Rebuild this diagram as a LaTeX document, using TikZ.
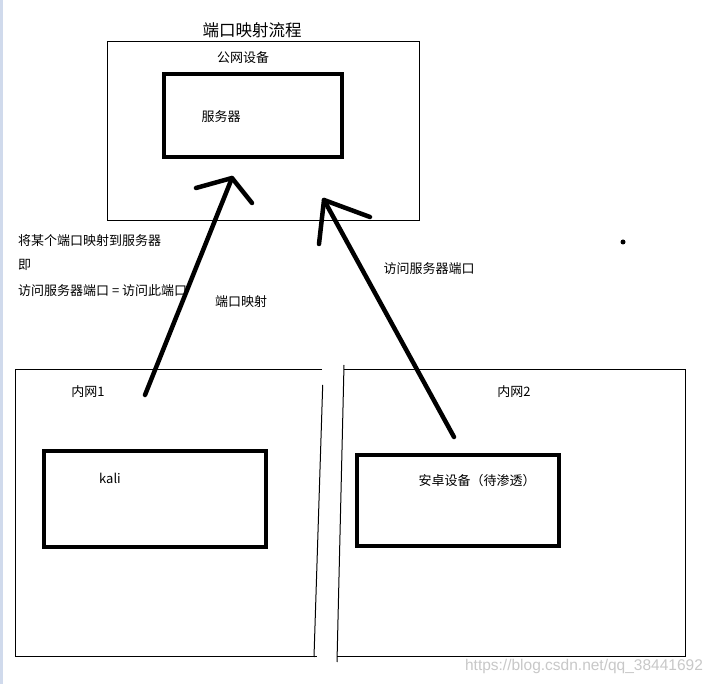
\documentclass[tikz,border=0pt]{standalone}
\usepackage{fontspec}
\setmainfont{Noto Sans CJK SC}
\newfontfamily\wmfont{Liberation Sans}
\usetikzlibrary{positioning}
\definecolor{edgeblue}{RGB}{208,218,236}
\definecolor{markgray}{RGB}{200,200,200}

\begin{document}
\begin{tikzpicture}[
  x=1pt, y=-1pt,
  txt/.style={font=\fontsize{13}{15}\selectfont, inner sep=0pt},
  netbox/.style={draw, line width=1pt, inner sep=0pt},
  devbox/.style={draw, line width=4pt, inner sep=0pt},
  pen/.style={line width=4.5pt, line cap=round, line join=round},
  thinline/.style={line width=1pt}
]
\useasboundingbox (0,0) rectangle (716,684);
\fill[white] (0,0) rectangle (716,684);
\fill[edgeblue] (0,0) rectangle (3,684);

% public side
\node[txt, font=\fontsize{16.5}{18}\selectfont] (title) at (252,30) {端口映射流程};
\node[netbox, minimum width=312pt, minimum height=179pt] (pubnet) at (263,131.5) {};
\node[txt] (pubname) at (243,58) {公网设备};
\node[devbox, minimum width=178pt, minimum height=83pt] (server) at (253,115.5) {};
\node[txt] (servername) at (221,117) {服务器};

% notes
\node[txt, anchor=west] (note1) at (18,241) {将某个端口映射到服务器};
\node[txt, anchor=west] (note2) at (18,265) {即};
\node[txt, anchor=west] (note3) at (18,291) {访问服务器端口 = 访问此端口};
\node[txt] (maplabel) at (241,302) {端口映射};
\node[txt] (visitlabel) at (429,269) {访问服务器端口};
\fill (623,242) circle (2.5);

% inner networks
\draw[thinline] (322,370) -- (15,370) -- (15,657) -- (317,657);
\draw[thinline] (322.7,385) -- (314,657);
\draw[thinline] (344,365) -- (337,662);
\draw[thinline] (344,370) -- (685,370) -- (685,657) -- (337,657);
\node[txt] (lan1) at (88,392) {内网1};
\node[txt] (lan2) at (514,392) {内网2};
\node[devbox, minimum width=222pt, minimum height=96pt] (kali) at (155,499) {};
\node[txt] (kaliname) at (110,478) {kali};
\node[devbox, minimum width=202pt, minimum height=91pt] (phone) at (458,500.5) {};
\node[txt] (phonename) at (477,481) {安卓设备（待渗透）};

% arrows
\coordinate (lfoot) at (145,395);
\coordinate (ltip) at (232,178);
\draw[pen] (lfoot) -- (ltip);
\draw[pen] (196,188) -- (ltip) -- (252,203);
\coordinate (rfoot) at (454,437);
\coordinate (rtip) at (324,200);
\draw[pen] (rfoot) -- (rtip);
\draw[pen] (319,244) -- (rtip) -- (370,217);

\node[inner sep=0pt, text=markgray, font=\wmfont\fontsize{15.5}{17}\selectfont] (mark) at (584,666) {https://blog.csdn.net/qq\_38441692};
\end{tikzpicture}
\end{document}
